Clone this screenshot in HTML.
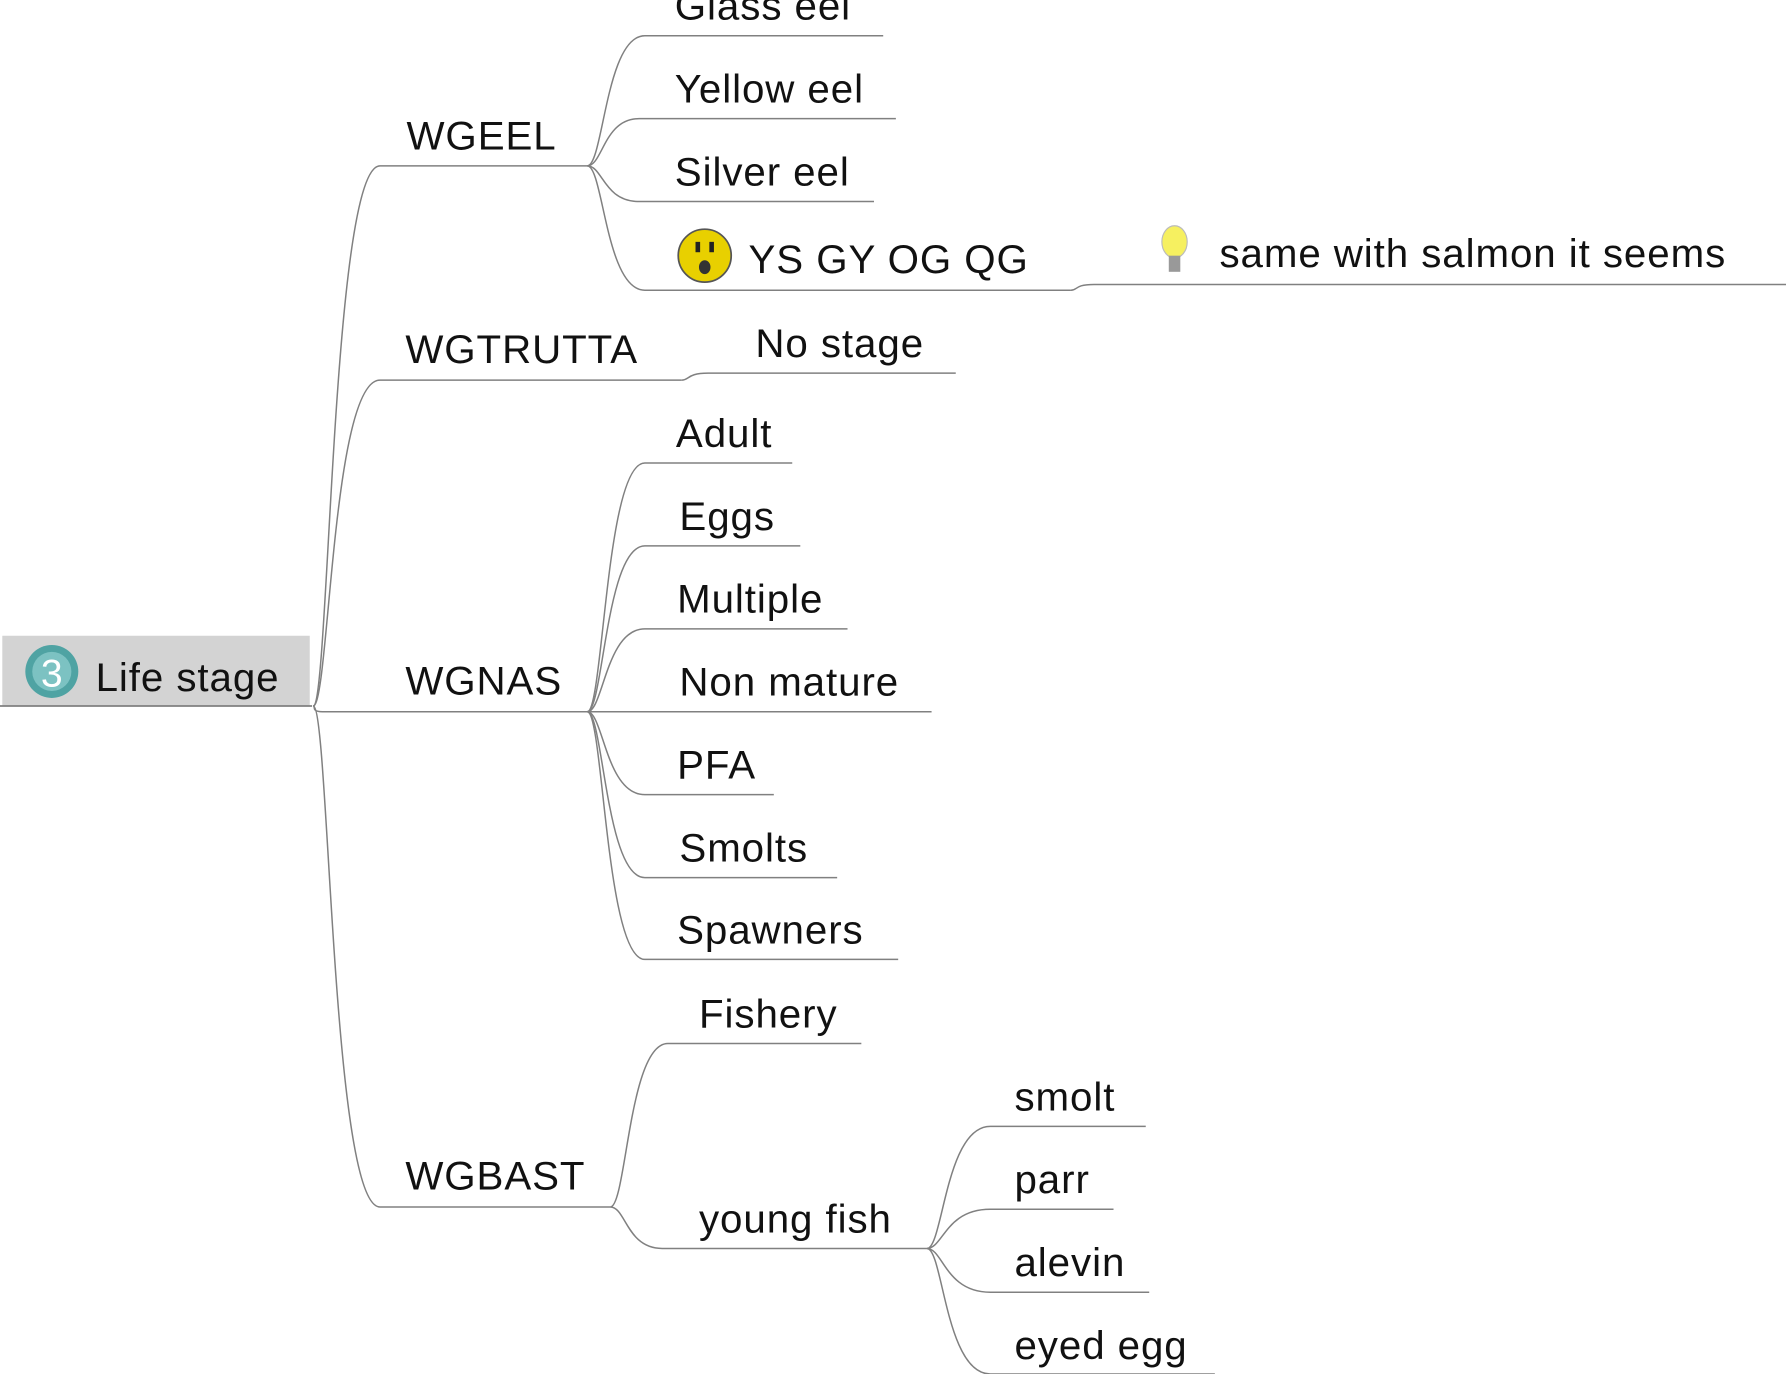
<!DOCTYPE html>
<html><head><meta charset="utf-8"><style>
html,body{margin:0;padding:0;background:#fff;}
svg{display:block;}
text{font-family:"Liberation Sans",sans-serif;font-size:35px;letter-spacing:0.8px;fill:#111;}
</style></head><body>
<svg id="map" width="1786" height="1374" viewBox="0 0 1551 1193" preserveAspectRatio="none" xmlns="http://www.w3.org/2000/svg">
<rect x="2" y="552" width="267" height="61" fill="#d3d3d3"/>
<line x1="0" y1="613" x2="271" y2="613" stroke="#808080" stroke-width="1.5"/>
<g>
<circle cx="45" cy="583" r="23" fill="#4fa3a3"/>
<circle cx="45" cy="583" r="17" fill="#7cc2c2"/>
<text x="45" y="596" text-anchor="middle" style="font-size:34px;fill:#fff;letter-spacing:0">3</text>
</g>
<text x="83" y="600">Life stage</text>
<g>
<circle cx="612" cy="222" r="23" fill="#e8d000" stroke="#555" stroke-width="1.5"/>
<rect x="604" y="210" width="4" height="9" fill="#222"/><rect x="616" y="210" width="4" height="9" fill="#222"/>
<ellipse cx="612" cy="232" rx="5" ry="6" fill="#333"/>
</g>
<g>
<ellipse cx="1020" cy="210" rx="11" ry="14" fill="#f6f060" stroke="#bbb"/>
<rect x="1015" y="222" width="10" height="14" fill="#999"/>
</g>
<g id="edges"></g>
<g id="labels"></g>
</svg>
<script>
const labels = ["WGEEL","WGTRUTTA","WGNAS","WGBAST","Glass eel","Yellow eel","Silver eel","YS GY OG QG","same with salmon it seems","No stage","Adult","Eggs","Multiple","Non mature","PFA","Smolts","Spawners","Fishery","young fish","smolt","parr","alevin","eyed egg"];
// [label index, parent end x, parent end y, line x1, line x2, line y, text x, text baseline]
const nodes = [
[0,272,613,330,510,144,353,130],
[1,272,613,330,592,330,352,315],
[2,272,613,280,510,618,352,603],
[3,272,613,330,530,1048,352,1033],
[4,510,144,560,767,31,586,17],
[5,510,144,555,778,103,586,89],
[6,510,144,555,759,175,586,161],
[7,510,144,560,930,252,650,237],
[8,930,252,950,1551,247,1059,232],
[9,592,330,615,830,324,656,310],
[10,510,618,560,688,402,587,388],
[11,510,618,560,695,474,590,460],
[12,510,618,560,736,546,588,532],
[13,510,618,520,809,618,590,604],
[14,510,618,560,672,690,588,676],
[15,510,618,560,727,762,590,748],
[16,510,618,560,780,833,588,819],
[17,530,1048,580,748,906,607,892],
[18,530,1048,575,805,1084,607,1070],
[19,805,1084,860,995,978,881,964],
[20,805,1084,860,967,1050,881,1036],
[21,805,1084,860,998,1122,881,1108],
[22,805,1084,860,1055,1193,881,1180]
];
const NS="http://www.w3.org/2000/svg";
const eg=document.getElementById('edges'), lg=document.getElementById('labels');
nodes.forEach(n=>{
  const [li,px,py,x1,x2,y,tx,ty]=n;
  const name=labels[li].toLowerCase().replace(/[^a-z0-9]+/g,'-');
  const p=document.createElementNS(NS,'path');
  const w=x1-px;
  const dx1=Math.min(14,w*0.3), dx2=Math.min(22,w*0.45);
  p.setAttribute('d',`M${px},${py} C${px+dx1},${py} ${px+dx1},${y} ${x1},${y} L${x2},${y}`.replace(`${px+dx1},${y}`,`${px+dx2-6},${y}`));
  p.setAttribute('fill','none');p.setAttribute('stroke','#808080');p.setAttribute('stroke-width','1.3');
  
  
  eg.appendChild(p);
  const t=document.createElementNS(NS,'text');
  t.setAttribute('x',tx);t.setAttribute('y',ty);
  t.textContent=labels[li];
  
  
  lg.appendChild(t);
});
</script>
</body></html>
